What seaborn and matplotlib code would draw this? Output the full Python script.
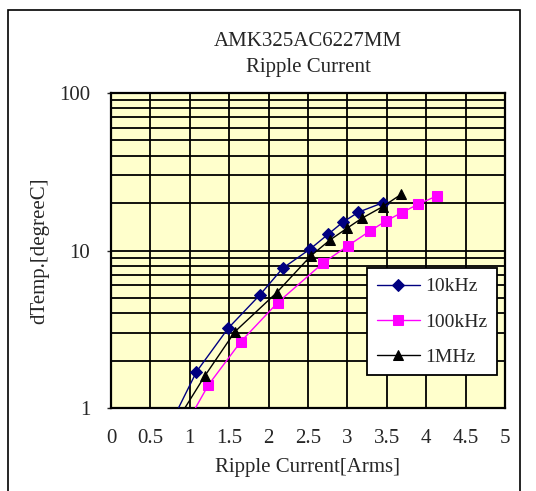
import numpy as np
import seaborn as sns
import matplotlib.pyplot as plt
import pandas as pd
from matplotlib.patches import Rectangle
from matplotlib.ticker import LogLocator, NullFormatter, FixedLocator

#Data
x_10k = [0.69, 1.085, 1.487, 1.889, 2.178, 2.525, 2.757, 2.940, 3.139, 3.449]
y_10k = [0.68, 1.70, 3.21, 5.22, 7.71, 10.2, 12.7, 15.1, 17.5, 20.1]

x_100k = [0.83, 1.236, 1.648, 2.114, 2.686, 3.004, 3.287, 3.490, 3.690, 3.901, 4.135]
y_100k = [0.61, 1.40, 2.64, 4.66, 8.29, 10.7, 13.3, 15.4, 17.4, 19.7, 22.2]

x_1m = [0.81, 1.191, 1.572, 2.102, 2.534, 2.779, 2.991, 3.182, 3.449, 3.681]
y_1m = [0.79, 1.60, 3.05, 5.40, 9.23, 11.66, 13.8, 16.0, 19.0, 22.7]

series = ['10kHz', '100kHz', '1MHz']
x_ticks = [0, 0.5, 1, 1.5, 2, 2.5, 3, 3.5, 4, 4.5, 5]
x_tick_labels = ['0', '0.5', '1', '1.5', '2', '2.5', '3', '3.5', '4', '4.5', '5']

df = pd.concat([
    pd.DataFrame({'I': x_10k, 'dT': y_10k, 'Freq': '10kHz'}),
    pd.DataFrame({'I': x_100k, 'dT': y_100k, 'Freq': '100kHz'}),
    pd.DataFrame({'I': x_1m, 'dT': y_1m, 'Freq': '1MHz'}),
])

sns.set_style('white')
plt.rcParams['font.family'] = ['Liberation Serif', 'DejaVu Serif']

fig = plt.figure(figsize=(5.36, 4.91), dpi=100)
ax = fig.add_axes([0.2071, 0.169, 0.735, 0.6416])
ax.set_facecolor('#FFFFCC')

colors = {'10kHz': '#000080', '100kHz': '#FF00FF', '1MHz': '#000000'}
markers = {'10kHz': 'D', '100kHz': 's', '1MHz': '^'}
sizes = {'10kHz': 6, '100kHz': 7, '1MHz': 7.5}

for name in series:
    sub = df[df.Freq == name]
    sns.lineplot(data=sub, x='I', y='dT', color=colors[name], marker=markers[name],
                 markersize=sizes[name], markeredgecolor=colors[name], linewidth=1.0,
                 label=name, ax=ax, zorder=3)

ax.set_yscale('log')
ax.set_xlim(0, 5)
ax.set_ylim(1, 100)
ax.xaxis.set_major_locator(FixedLocator(x_ticks))
ax.set_xticklabels(x_tick_labels)
ax.yaxis.set_major_locator(FixedLocator([1, 10, 100]))
ax.set_yticklabels(['1', '10', '100'])
ax.yaxis.set_minor_locator(LogLocator(base=10, subs=np.arange(2, 10)))
ax.yaxis.set_minor_formatter(NullFormatter())

ax.grid(True, which='major', color='black', linewidth=1.3)
ax.grid(True, which='minor', axis='y', color='black', linewidth=1.3)
for s in ax.spines.values():
    s.set_color('black')
    s.set_linewidth(1.6)

ax.tick_params(axis='x', length=0, pad=15, labelsize=15)
ax.tick_params(axis='y', which='major', length=3, width=1, pad=12, labelsize=15, left=True)
ax.tick_params(axis='y', which='minor', length=0)

ax.set_xlabel('Ripple Current[Arms]', fontsize=15, labelpad=7)
ax.set_ylabel('dTemp.[degreeC]', fontsize=15, labelpad=7)
ax.set_title('AMK325AC6227MM\nRipple Current', fontsize=15, pad=15, linespacing=1.5)

leg = ax.legend(loc='upper left', bbox_to_anchor=(0.65, 0.444), borderaxespad=0,
                fontsize=14, frameon=True, fancybox=False, framealpha=1, edgecolor='black',
                handlelength=2.2, handletextpad=0.3, labelspacing=0.9, borderpad=0.5)
leg.get_frame().set_linewidth(1.3)

fig.patches.append(Rectangle((8/536, -0.1), (520-8)/536, 1.1 - 10/491, transform=fig.transFigure,
                             fill=False, edgecolor='black', linewidth=1.2))

fig.savefig('out.png', format='png', dpi=100)
